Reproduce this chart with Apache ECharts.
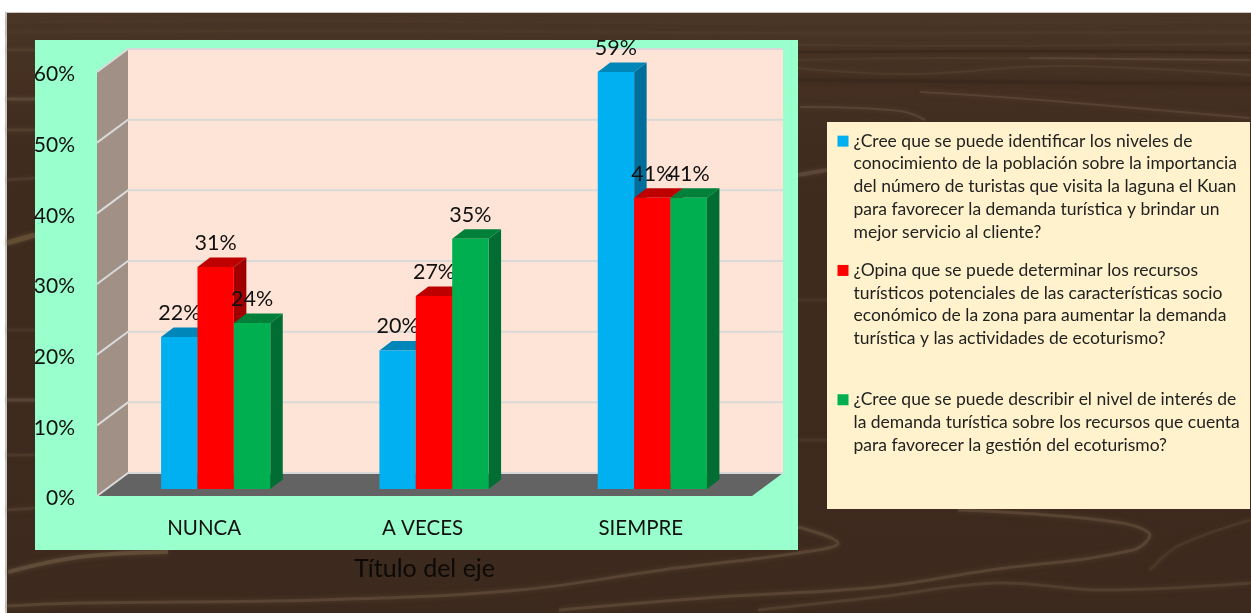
<!DOCTYPE html>
<html><head><meta charset="utf-8">
<style>html,body{margin:0;padding:0;background:#fff}#c{width:1251px;height:613px}</style>
<script src="https://cdn.jsdelivr.net/npm/echarts@6/dist/echarts.min.js"></script>
</head><body><div id="c"></div>
<script>
const categories = ['NUNCA', 'A VECES', 'SIEMPRE'];
const serie1 = [0.215, 0.196, 0.59];
const serie2 = [0.314, 0.273, 0.412];
const serie3 = [0.235, 0.354, 0.412];
const dataLabels1 = ['22%', '20%', '59%'];
const dataLabels2 = ['31%', '27%', '41%'];
const dataLabels3 = ['24%', '35%', '41%'];
const ticks = [0, 0.1, 0.2, 0.3, 0.4, 0.5, 0.6];
const legend1 = ['¿Cree que se puede identificar los niveles de','conocimiento de la población sobre la importancia','del número de turistas que visita la laguna el Kuan','para favorecer la demanda turística y brindar un','mejor servicio al cliente?'];
const legend2 = ['¿Opina que se puede determinar los recursos','turísticos potenciales de las características socio','económico de la zona para aumentar la demanda','turística y las actividades de ecoturismo?'];
const legend3 = ['¿Cree que se puede describir el nivel de interés de','la demanda turística sobre los recursos que cuenta','para favorecer la gestión del ecoturismo?'];
const axisTitle = 'Título del eje';

const FONT = 'Lato';
const names = [legend1, legend2, legend3].map(l => l.join(' '));
const blockLines = {};
[legend1, legend2, legend3].forEach(l => {
  blockLines[l.join(' ')] = '\n\n\n\n' + l.join('\n') + '\n'.repeat(5 - l.length);
});

function barSeries(idx, values, labels, front, top, side) {
  return {
    type: 'custom', name: names[idx], z: 5 + idx,
    itemStyle: { color: front },
    data: values.map((v, i) => [i, v, labels[i]]),
    encode: { x: 0, y: 1 },
    renderItem(params, api) {
      const base = api.coord([api.value(0), 0]);
      const head = api.coord([api.value(0), api.value(1)]);
      const w = api.size([1, 0])[0] / 6;
      const ox = 9.5, oy = -7, dx = 12.5, dy = 9.5;
      const x0 = base[0] + ox + (idx - 1.5) * w;
      const x1 = x0 + w, yb = base[1] + oy, yt = head[1] + oy;
      const poly = (pts, fill) => ({ type: 'polygon', shape: { points: pts }, style: { fill } });
      return { type: 'group', children: [
        poly([[x1, yb], [x1 + dx, yb - dy], [x1 + dx, yt - dy], [x1, yt]], side),
        poly([[x0, yt], [x0 + dx, yt - dy], [x1 + dx, yt - dy], [x1, yt]], top),
        poly([[x0, yb], [x1, yb], [x1, yt], [x0, yt]], front),
        { type: 'text', z2: 50, style: { text: api.value(2), x: x0 + w / 2, y: yt - 24, align: 'center', verticalAlign: 'middle',
          fill: '#111', font: '21.5px ' + FONT } }
      ] };
    }
  };
}

const wallSeries = {
  type: 'custom', name: 'walls', z: 2, silent: true,
  data: ticks.map(t => [0, t]),
  encode: { x: 0, y: 1 },
  renderItem(params, api) {
    const cs = params.coordSys, dx = 31, dy = 23;
    const xl = cs.x, xr = cs.x + cs.width;
    const y = api.coord([0, api.value(1)])[1];
    const line = pts => ({ type: 'polyline', shape: { points: pts }, style: { stroke: '#D9D9D9', lineWidth: 2, fill: 'none' } });
    const children = [];
    if (params.dataIndex === 0) {
      const yb = cs.y + cs.height, yt = cs.y;
      children.push(
        { type: 'polygon', shape: { points: [[xl + dx, yt - dy], [xr + dx, yt - dy], [xr + dx, yb - dy], [xl + dx, yb - dy]] }, style: { fill: '#FDE4D6' } },
        { type: 'polygon', shape: { points: [[xl, yt], [xl + dx, yt - dy], [xl + dx, yb - dy], [xl, yb]] }, style: { fill: '#A09085' } },
        { type: 'polygon', shape: { points: [[xl, yb], [xl + dx, yb - dy], [xr + dx, yb - dy], [xr, yb]] }, style: { fill: '#636363' } }
      );
    }
    children.push(line([[xl, y], [xl + dx, y - dy], [xr + dx, y - dy]]));
    return { type: 'group', children };
  }
};

// decorative wood backdrop: [points, colour, width]
const woodStreaks = [
  [[[7,22],[300,21],[700,23],[1251,22]], '#4d3828', 3],
  [[[7,32],[400,31],[800,33],[1251,32]], '#503b2a', 3],
  [[[798,45],[1000,46],[1251,44]], '#55402e', 2],
  [[[798,52],[1060,51],[1251,53]], '#33231a', 2],
  [[[798,60],[940,58],[1251,60]], '#55402e', 2],
  [[[1030,58],[1250,60]], '#6a5441', 1.5],
  [[[798,68],[910,74],[1060,66],[1251,75]], '#58432f', 2],
  [[[798,80],[1251,84]], '#34251a', 3],
  [[[800,107],[900,111],[925,120]], '#6a5441', 2],
  [[[920,92],[1000,97],[1100,105],[1250,118]], '#67503d', 2],
  [[[7,50],[35,50]], '#59432f', 3],
  [[[7,99],[35,99]], '#6e5946', 3],
  [[[7,130],[35,130]], '#5f4937', 3],
  [[[7,180],[35,178]], '#584331', 3],
  [[[7,243],[35,235]], '#75603f', 5],
  [[[7,330],[35,330]], '#4f3b2b', 3],
  [[[7,400],[35,400]], '#6b5645', 3],
  [[[7,455],[35,455]], '#55412f', 3],
  [[[7,510],[35,508]], '#5b4633', 3],
  [[[798,175],[827,170]], '#6b5645', 4],
  [[[798,300],[827,300]], '#4f3b2b', 3],
  [[[798,440],[827,440]], '#4f3b2b', 3],
  [[[958,510],[1100,520],[1149,533],[1133,550],[990,570],[878,587],[718,597],[559,610]], '#6b5540', 3],
  [[[798,527],[838,543],[798,553],[662,570],[519,590],[319,600],[80,603],[7,606]], '#6b5540', 3],
  [[[8,572],[80,557],[168,552]], '#756048', 4],
  [[[1251,583],[1100,590],[998,583],[878,597],[758,610]], '#604b38', 3],
  [[[1251,520],[1180,545],[1150,570]], '#54402e', 3]
];

const graphic = [
  { type: 'rect', z: -3, shape: { x: 5, y: 12, width: 1246, height: 601 }, style: { fill: '#C8C4C0' } },
  { type: 'rect', z: -3, shape: { x: 7, y: 13, width: 1244, height: 600 },
    style: { fill: { type: 'linear', x: 0, y: 0, x2: 0, y2: 1, colorStops: [
      { offset: 0, color: '#4A3627' }, { offset: 0.12, color: '#442F21' }, { offset: 0.3, color: '#3E2B1E' }, { offset: 1, color: '#3D2A1E' }] } } },
  ...woodStreaks.map(s => ({ type: 'polyline', z: -2, shape: { points: s[0], smooth: 0.4 },
    style: { stroke: s[1], lineWidth: s[2], fill: 'none', opacity: 0.5, shadowBlur: 5, shadowColor: s[1] } })),
  { type: 'rect', z: -1, shape: { x: 35, y: 40, width: 763, height: 510 }, style: { fill: '#99FFCC' } },
  { type: 'rect', z: -1, shape: { x: 827, y: 122, width: 423, height: 387 }, style: { fill: '#FFF2CC' } }
];

const option = {
  animation: false,
  textStyle: { fontFamily: FONT },
  graphic,
  grid: { left: 97, top: 72, width: 655, height: 424, containLabel: false },
  legend: {
    orient: 'vertical', left: 837.5, top: 39, padding: 0, itemWidth: 11, itemHeight: 11, itemGap: -75,
    icon: 'rect', selectedMode: false, data: names, align: 'left',
    formatter: n => blockLines[n],
    textStyle: { fontFamily: FONT, fontSize: 17.5, lineHeight: 22.7, color: '#222' }
  },
  xAxis: {
    type: 'category', data: categories,
    axisLine: { show: false }, axisTick: { show: false }, splitLine: { show: false },
    axisLabel: { fontSize: 20.5, color: '#111', margin: 22, fontFamily: FONT, padding: [0, 4, 0, 0] },
    name: axisTitle, nameLocation: 'middle', nameGap: 60,
    nameTextStyle: { fontSize: 25, color: '#0c0a08', fontFamily: FONT }
  },
  yAxis: {
    type: 'value', min: 0, max: 0.6, interval: 0.1,
    axisLine: { show: false }, axisTick: { show: false }, splitLine: { show: false },
    axisLabel: { fontSize: 21, color: '#111', margin: 22, fontFamily: FONT, verticalAlign: 'top', lineHeight: 5, formatter: v => Math.round(v * 100) + '%' }
  },
  series: [
    wallSeries,
    barSeries(0, serie1, dataLabels1, '#00B0F0', '#0086B8', '#006E9A'),
    barSeries(1, serie2, dataLabels2, '#FF0000', '#BF0000', '#A00000'),
    barSeries(2, serie3, dataLabels3, '#00B050', '#008038', '#006E32')
  ]
};
const chart = echarts.init(document.getElementById('c'), null, { renderer: 'canvas' });
chart.setOption(option);
</script></body></html>
